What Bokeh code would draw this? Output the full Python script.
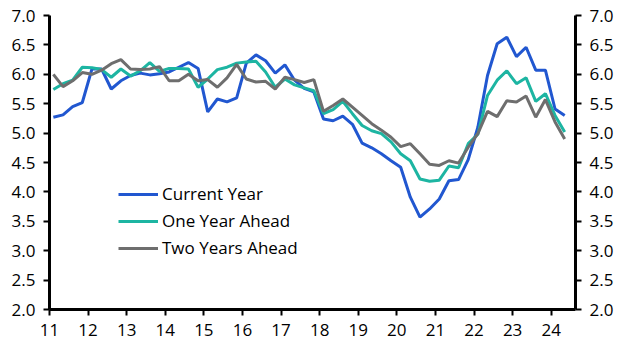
from bokeh.plotting import figure
from bokeh.models import LinearAxis, FixedTicker, PrintfTickFormatter, Range1d, Legend, LegendItem, ColumnDataSource
from bokeh.embed import file_html
from bokeh.resources import INLINE

# quarterly observations, 2011 Q1 .. 2024 Q2
years = [y for y in range(2011, 2025) for _ in range(4)][:54]
quarters = ([1, 2, 3, 4] * 14)[:54]

current_year = [5.27, 5.31, 5.45, 5.52, 6.09, 6.09, 5.75, 5.89, 5.98, 6.02,
                5.99, 6.01, 6.04, 6.12, 6.20, 6.10, 5.36, 5.58, 5.53, 5.60,
                6.19, 6.33, 6.23, 6.02, 6.16, 5.90, 5.76, 5.70, 5.24, 5.21,
                5.29, 5.15, 4.83, 4.75, 4.65, 4.53, 4.42, 3.91, 3.57, 3.71,
                3.88, 4.19, 4.21, 4.55, 5.10, 5.98, 6.52, 6.63, 6.30, 6.46,
                6.07, 6.07, 5.41, 5.30]
one_year_ahead = [5.74, 5.84, 5.90, 6.12, 6.11, 6.08, 5.95, 6.09, 5.97, 6.06,
                  6.20, 6.05, 6.10, 6.10, 6.09, 5.78, 5.92, 6.08, 6.12, 6.19,
                  6.21, 6.22, 6.04, 5.78, 5.92, 5.82, 5.77, 5.72, 5.33, 5.40,
                  5.54, 5.33, 5.13, 5.04, 4.99, 4.85, 4.65, 4.53, 4.22, 4.18,
                  4.20, 4.44, 4.41, 4.82, 4.98, 5.64, 5.90, 6.06, 5.84, 5.94,
                  5.54, 5.67, 5.30, 5.02]
two_years_ahead = [6.00, 5.79, 5.89, 6.03, 6.00, 6.07, 6.18, 6.25, 6.09, 6.08,
                   6.09, 6.13, 5.89, 5.89, 6.00, 5.89, 5.91, 5.78, 5.94, 6.17,
                   5.92, 5.87, 5.88, 5.75, 5.95, 5.91, 5.86, 5.91, 5.37, 5.47,
                   5.58, 5.44, 5.30, 5.16, 5.05, 4.93, 4.77, 4.82, 4.65, 4.47,
                   4.45, 4.53, 4.49, 4.76, 4.99, 5.37, 5.28, 5.55, 5.53, 5.63,
                   5.27, 5.57, 5.19, 4.90]

x_ticks = list(range(11, 25))
x_tick_labels = [str(t) for t in x_ticks]
y_ticks = [2.0, 2.5, 3.0, 3.5, 4.0, 4.5, 5.0, 5.5, 6.0, 6.5, 7.0]

# position each quarter on a two-digit year scale
xs = [(y - 2000) + (q - 1) / 4 + 0.1 for y, q in zip(years, quarters)]

src = ColumnDataSource(dict(x=xs, cy=current_year, oy=one_year_ahead, ty=two_years_ahead))

FONT = "Open Sans"
p = figure(width=629, height=355, output_backend="svg", toolbar_location=None,
           x_range=Range1d(11, 24.63), y_range=Range1d(2, 7),
           min_border_left=49, min_border_right=54, min_border_top=15, min_border_bottom=46)
p.outline_line_color = None
p.xgrid.visible = False
p.ygrid.visible = False
p.background_fill_color = "white"

c_blue = "#2157D0"
c_teal = "#1DB5A2"
c_gray = "#6E6E6E"

r1 = p.line("x", "cy", source=src, line_color=c_blue, line_width=3)
r2 = p.line("x", "oy", source=src, line_color=c_teal, line_width=3)
r3 = p.line("x", "ty", source=src, line_color=c_gray, line_width=3)

right_axis = LinearAxis()
p.add_layout(right_axis, "right")

for ax in [p.yaxis[0], right_axis]:
    ax.ticker = FixedTicker(ticks=y_ticks)
    ax.formatter = PrintfTickFormatter(format="%.1f")

p.xaxis.ticker = FixedTicker(ticks=x_ticks)
p.xaxis.major_label_overrides = {t: l for t, l in zip(x_ticks, x_tick_labels)}

for ax in p.axis:
    ax.axis_line_width = 3
    ax.axis_line_color = "black"
    ax.major_tick_line_width = 2
    ax.major_tick_line_color = "black"
    ax.major_tick_out = 6
    ax.major_tick_in = 0
    ax.minor_tick_line_color = None
    ax.major_label_text_font = FONT
    ax.major_label_text_font_size = "17px"
    ax.major_label_text_color = "black"
    ax.major_label_standoff = 8

legend = Legend(items=[LegendItem(label="Current Year", renderers=[r1]),
                       LegendItem(label="One Year Ahead", renderers=[r2]),
                       LegendItem(label="Two Years Ahead", renderers=[r3])],
                location=(69, 50))
legend.background_fill_alpha = 0
legend.border_line_color = None
legend.padding = 0
legend.margin = 0
legend.spacing = 4
legend.glyph_width = 40
legend.glyph_height = 20
legend.label_height = 20
legend.label_standoff = 4
legend.label_text_font = FONT
legend.label_text_font_size = "17px"
legend.label_text_color = "black"
p.add_layout(legend, "center")

open("out.html", "w").write(file_html(p, INLINE))
